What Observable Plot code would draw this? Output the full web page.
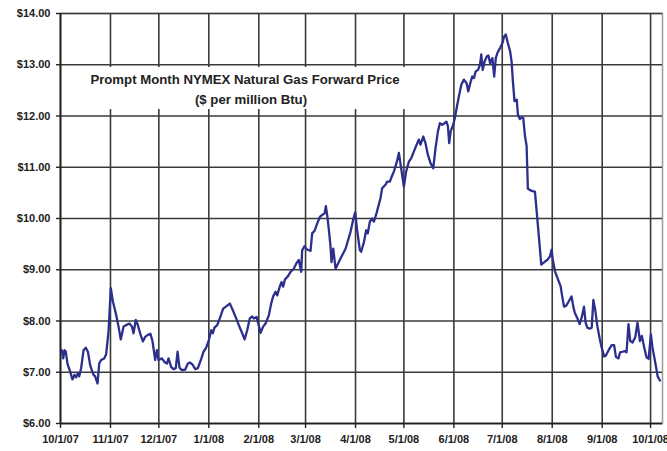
<!DOCTYPE html>
<html>
<head>
<meta charset="utf-8">
<script src="https://cdn.jsdelivr.net/npm/d3@7"></script>
<script src="https://cdn.jsdelivr.net/npm/@observablehq/plot@0.6"></script>
<style>
  html, body { margin: 0; padding: 0; background: #fff; }
  #wrap { position: relative; width: 667px; height: 451px; overflow: hidden; }
  #titlebox {
    position: absolute; left: 62px; top: 67px; width: 345px; height: 42px;
    background: #fff;
    font-family: "Liberation Sans", Arial, sans-serif; font-weight: bold; font-size: 13.2px; color: #222;
  }
  #titlebox div { position: absolute; white-space: nowrap; transform: translateX(-50%); line-height: 1; }
</style>
</head>
<body>
<div id="wrap"></div>
<script>
// Prompt month NYMEX natural gas forward price
// days since 1 Oct 2007
const dayOffsets = [
  0.8,1.7,2.5,3.3,4.3,6.0,7.4,8.7,9.7,10.8,11.6,12.8,14.3,15.7,17.0,18.4,19.4,20.5,21.5,23.0,
  24.0,25.2,27.1,28.3,29.8,31.2,32.5,34.3,36.0,37.4,39.1,40.7,42.8,44.3,45.3,46.7,48.0,49.4,51.1,52.5,
  54.2,55.8,57.1,58.7,59.8,60.8,62.9,64.5,66.0,67.0,68.7,70.1,71.5,72.6,73.8,75.3,77.3,79.0,80.4,81.9,
  83.6,85.2,87.3,88.7,90.2,91.8,93.5,94.5,95.5,97.2,98.8,100.9,103.0,105.0,106.5,108.6,110.6,112.7,114.2,115.8,
  117.4,118.9,119.9,121.6,124.1,125.7,127.2,129.2,130.7,131.9,133.4,134.4,136.0,137.1,138.1,139.2,141.0,142.7,144.7,146.4,
  147.8,149.3,149.9,151.4,152.6,154.1,155.1,156.1,157.6,159.2,160.9,162.3,163.8,164.6,165.4,166.5,167.5,168.1,169.2,170.6,
  173.7,176.8,179.9,181.5,182.8,184.0,185.7,186.5,188.2,189.6,190.6,191.9,193.3,194.4,196.0,198.5,199.5,201.6,202.6,204.3,
  205.1,206.8,208.4,209.9,211.3,213.0,214.4,216.1,217.6,219.2,220.9,222.3,223.3,225.0,226.4,227.9,229.5,231.2,232.6,234.1,
  235.3,236.8,238.2,239.4,240.3,241.1,242.0,243.6,244.6,246.1,247.1,248.6,250.2,251.9,252.9,254.4,255.4,256.5,257.5,259.0,
  260.2,261.0,261.9,263.1,264.4,265.4,266.5,267.9,269.0,270.0,271.0,272.7,274.1,275.2,276.2,277.2,278.9,279.8,280.6,281.6,
  283.0,283.7,284.9,285.9,287.0,288.1,289.1,289.9,291.5,294.3,296.7,298.2,300.5,301.9,303.6,304.6,305.4,306.7,309.1,310.2,
  311.2,312.3,313.7,315.4,317.0,318.0,319.0,320.5,322.0,323.2,324.7,325.7,326.8,328.2,329.5,330.5,331.6,333.0,334.5,335.7,
  337.2,338.2,340.3,341.9,343.4,344.5,346.1,347.1,348.6,350.2,351.1,352.3,353.4,354.8,356.5,357.9,359.4,360.6,362.1,363.5,
  364.8,366.2,367.2,368.9,370.4,371.8
];
const prices = [
  7.43,7.27,7.43,7.40,7.17,7.01,6.86,6.95,6.90,6.98,6.92,7.08,7.43,7.48,7.40,7.14,7.04,6.95,6.92,6.78,
  7.17,7.24,7.27,7.35,7.80,8.64,8.38,8.15,7.89,7.64,7.89,7.92,7.95,7.89,7.76,8.02,7.92,7.76,7.60,7.69,
  7.73,7.75,7.60,7.24,7.43,7.24,7.27,7.20,7.17,7.27,7.10,7.06,7.08,7.40,7.09,7.04,7.05,7.17,7.19,7.15,
  7.06,7.08,7.26,7.40,7.47,7.60,7.82,7.76,7.87,7.92,8.05,8.24,8.29,8.34,8.24,8.08,7.92,7.76,7.64,7.82,
  8.05,8.09,8.05,8.08,7.77,7.89,7.95,8.11,8.34,8.48,8.57,8.50,8.67,8.76,8.67,8.81,8.87,8.96,9.02,9.13,
  9.19,8.96,9.38,9.46,9.40,9.38,9.37,9.71,9.76,9.90,10.03,10.07,10.10,10.24,10.07,9.77,9.45,9.15,9.41,9.02,
  9.22,9.41,9.74,9.97,10.12,9.77,9.38,9.35,9.54,9.77,9.71,9.94,10.00,9.94,10.10,10.40,10.59,10.66,10.72,10.72,
  10.79,10.92,11.08,11.28,10.98,10.62,10.92,11.11,11.18,11.31,11.44,11.54,11.44,11.60,11.47,11.24,11.08,10.98,11.37,11.70,
  11.86,11.83,11.86,11.89,11.80,11.47,11.70,11.83,11.96,12.22,12.38,12.61,12.71,12.64,12.48,12.67,12.77,12.74,12.87,12.90,
  13.00,13.20,12.90,13.07,13.16,13.18,13.03,13.13,12.77,13.13,13.23,13.33,13.42,13.55,13.59,13.46,13.26,13.06,12.68,12.29,
  12.32,12.03,11.94,11.97,11.97,11.61,11.42,10.58,10.55,10.52,9.65,9.10,9.16,9.19,9.26,9.39,9.19,8.97,8.77,8.68,
  8.48,8.28,8.30,8.39,8.48,8.29,8.16,8.06,7.94,8.06,8.28,7.97,7.87,7.85,7.87,8.41,8.23,7.90,7.65,7.48,
  7.31,7.32,7.45,7.53,7.53,7.30,7.27,7.39,7.40,7.41,7.39,7.94,7.61,7.58,7.68,7.97,7.61,7.71,7.48,7.29,
  7.26,7.74,7.48,7.19,6.92,6.84
];
const xTickLabels = ["2007-10-01","2007-11-01","2007-12-01","2008-01-01","2008-02-01","2008-03-01","2008-04-01",
  "2008-05-01","2008-06-01","2008-07-01","2008-08-01","2008-09-01","2008-10-01"];
const yTicks = [6, 7, 8, 9, 10, 11, 12, 13, 14];
const titleLines = ["Prompt Month NYMEX Natural Gas Forward Price", "($ per million Btu)"];
const domainEndDay = 373.4;

const origin = Date.UTC(2007, 9, 1);
const data = dayOffsets.map((d, i) => ({date: new Date(origin + d * 864e5), price: prices[i]}));
const xTicks = xTickLabels.map(s => new Date(s + "T00:00:00Z"));
const fmt = d3.utcFormat("%-m/%-d/%y");

const gridColor = "#3a3a3a";
const chart = Plot.plot({
  width: 667, height: 451,
  marginLeft: 60, marginRight: 5, marginTop: 13, marginBottom: 28,
  style: {fontFamily: "'Liberation Sans', Arial, sans-serif", fontSize: "11px", fontWeight: "bold", color: "#222", background: "#fff"},
  x: {type: "utc", domain: [new Date(origin), new Date(origin + domainEndDay * 864e5)], label: null},
  y: {domain: [6, 14], label: null},
  marks: [
    Plot.frame({stroke: "#9a9a9a", strokeWidth: 1.5}),
    Plot.gridX(xTicks, {stroke: gridColor, strokeOpacity: 1, strokeWidth: 1.6}),
    Plot.gridY(yTicks, {stroke: gridColor, strokeOpacity: 1, strokeWidth: 1.6}),
    Plot.ruleY([6], {stroke: "#222", strokeWidth: 1.6}),
    Plot.ruleX([new Date(origin)], {stroke: "#222", strokeWidth: 1.6}),
    Plot.axisX(xTicks, {label: null, tickSize: 5, tickPadding: 7, tickFormat: fmt, stroke: "#222", strokeWidth: 1.4, fill: "#222"}),
    Plot.axisY(yTicks, {label: null, tickSize: 4, tickPadding: 6, tickFormat: d => "$" + d.toFixed(2), stroke: "#222", strokeWidth: 1.4, fill: "#222"}),
    Plot.line(data, {x: "date", y: "price", stroke: "#2c2f8c", strokeWidth: 2.3, strokeLinejoin: "round"})
  ]
});

const wrap = document.getElementById("wrap");
wrap.appendChild(chart);
const box = document.createElement("div");
box.id = "titlebox";
const l1 = document.createElement("div");
l1.textContent = titleLines[0];
l1.style.left = "183px"; l1.style.top = "6px";
const l2 = document.createElement("div");
l2.textContent = titleLines[1];
l2.style.left = "189px"; l2.style.top = "26px";
box.appendChild(l1); box.appendChild(l2);
wrap.appendChild(box);
</script>
</body>
</html>
